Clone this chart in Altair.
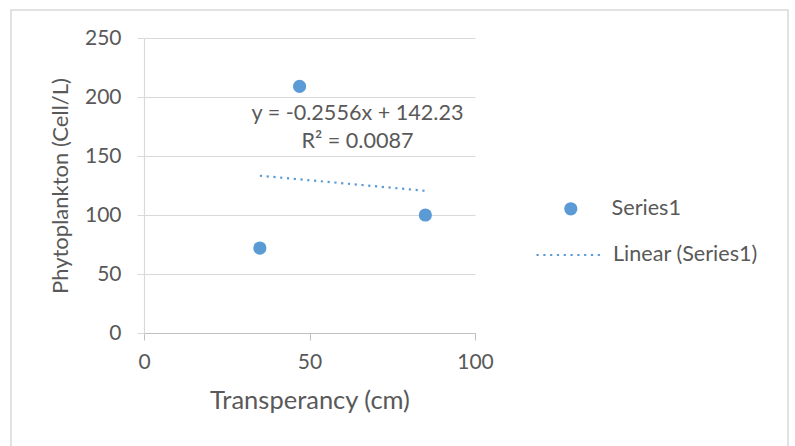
import altair as alt
import pandas as pd

# ---- data ----
transparency = [35, 47, 85]
phytoplankton = [72, 209, 100]
series_name = ["Series1", "Series1", "Series1"]

slope = -0.2556
intercept = 142.23
r_squared = 0.0087
trend_name = "Linear (Series1)"

eq_lines = ["y = -0.2556x + 142.23", "R² = 0.0087"]

x_ticks = [0, 50, 100]
y_ticks = [0, 50, 100, 150, 200, 250]

# ---- tables ----
pts = pd.DataFrame({"x": transparency, "y": phytoplankton, "series": series_name})
tx = [min(transparency), max(transparency)]
trend = pd.DataFrame({"x": tx, "y": [slope * v + intercept for v in tx],
                      "series": [trend_name] * 2})
eq = pd.DataFrame({"x": [64.5, 64.5], "y": [185.5, 161.5], "t": eq_lines})

BLUE = "#5B9BD5"
TXT = "#595959"
FONT = "Lato"
DASH = [2.2, 4.6]

xs = alt.Scale(domain=[0, 100], nice=False, zero=False)
ys = alt.Scale(domain=[0, 250], nice=False)

xax = alt.Axis(values=x_ticks, title="Transperancy (cm)", grid=False,
               domainColor="#BFBFBF", tickColor="#BFBFBF", tickSize=7,
               labelPadding=11, titlePadding=16, labelFlush=False,
               labelFontSize=21, titleFontSize=25.5)
yax = alt.Axis(values=y_ticks, title="Phytoplankton (Cell/L)", grid=True,
               gridColor="#D9D9D9", domainColor="#D9D9D9", tickColor="#D9D9D9",
               tickSize=7, labelPadding=16, titlePadding=12,
               labelFontSize=21, titleFontSize=22)

frame = alt.Chart(alt.Data(values=[{"a": 1}])).mark_rect(
    fill="transparent", stroke="#D9D9D9", strokeWidth=1.5
).encode(x=alt.value(-133), x2=alt.value(644), y=alt.value(-28), y2=alt.value(440))

points = alt.Chart(pts).mark_point(filled=True, size=175, color=BLUE, opacity=1).encode(
    x=alt.X("x:Q", scale=xs, axis=xax),
    y=alt.Y("y:Q", scale=ys, axis=yax),
    shape=alt.Shape("series:N", scale=alt.Scale(range=["circle"]),
                    legend=alt.Legend(title=None, orient="none", legendX=416, legendY=160,
                                      symbolFillColor=BLUE, symbolStrokeColor=BLUE,
                                      symbolSize=175, labelOffset=30,
                                      labelFontSize=21.6, labelColor=TXT, labelFont=FONT)),
)

line = alt.Chart(trend).mark_line(color=BLUE, strokeWidth=2.2).encode(
    x=alt.X("x:Q", scale=xs),
    y=alt.Y("y:Q", scale=ys),
    strokeDash=alt.StrokeDash("series:N", scale=alt.Scale(range=[DASH]),
                              legend=alt.Legend(title=None, orient="none", legendX=391, legendY=183,
                                                symbolType="stroke", symbolSize=4225,
                                                symbolStrokeColor=BLUE, symbolStrokeWidth=2.2,
                                                symbolDash=[2.2, 5.9],
                                                labelOffset=10,
                                                labelFontSize=21.6, labelColor=TXT, labelFont=FONT)),
)

text = alt.Chart(eq).mark_text(font=FONT, fontSize=21.6, color=TXT, align="center",
                               baseline="middle").encode(
    x=alt.X("x:Q", scale=xs), y=alt.Y("y:Q", scale=ys), text="t:N")

chart = alt.layer(frame, line, points, text).properties(
    width=331, height=295,
    autosize=alt.AutoSizeParams(type="none"),
    padding={"left": 144, "top": 38, "right": 320, "bottom": 113},
    background="white",
).configure_view(stroke="transparent").configure_axis(
    labelFont=FONT, titleFont=FONT, labelColor=TXT, titleColor=TXT,
    titleFontWeight="normal", domainWidth=1.2,
)

chart.save("out.html", embed_options={"renderer": "svg", "actions": False})
